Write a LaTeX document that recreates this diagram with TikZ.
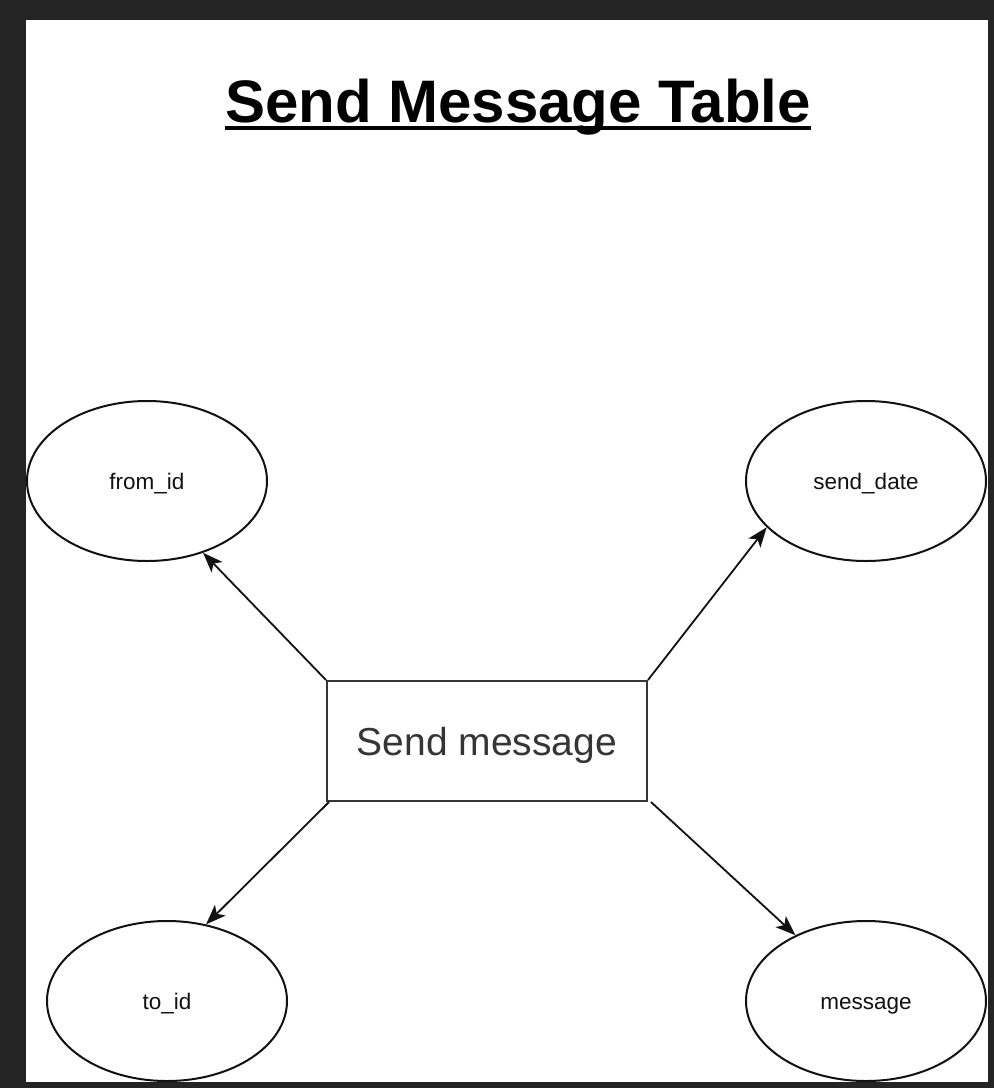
\documentclass[tikz,border=0pt]{standalone}
\usepackage{fontspec}
\setmainfont{Liberation Sans}
\usetikzlibrary{shapes.geometric,arrows.meta}
\definecolor{frame}{HTML}{242424}
\definecolor{ink}{HTML}{111111}
\begin{document}
\begin{tikzpicture}[x=1pt,y=-1pt,
  attr/.style={ellipse,draw=ink,line width=2pt,minimum width=240pt,minimum height=160pt,inner sep=0pt,
    font=\fontsize{22.5}{26}\selectfont,text=ink,text height=16pt,text depth=0pt},
  entity/.style={rectangle,draw=ink!85,line width=2pt,minimum width=320pt,minimum height=120pt,inner sep=0pt,
    font=\fontsize{39}{44}\selectfont,text=ink!85,text height=28pt,text depth=0pt},
  arr/.style={draw=ink,line width=1.8pt,-{Stealth[length=20pt,width=15pt,inset=5pt]}}]
\useasboundingbox (0,0) rectangle (994,1088);
\fill[frame] (0,0) rectangle (994,1088);
\fill[white] (26,20) rectangle (988,1082);
\node[anchor=base,inner sep=0pt,font=\fontsize{60}{70}\selectfont\bfseries] (title) at (518,122) {Send Message Table};
\draw[line width=3.2pt] ([yshift=-6pt]title.base west) -- ([yshift=-6pt]title.base east);
\node[entity] (box) at (487,741) {Send message};
\node[attr] (from) at (147,481) {from\_id};
\node[attr] (date) at (866,481) {send\_date};
\node[attr] (to) at (167,1001) {to\_id};
\node[attr] (msg) at (866,1001) {message};
\draw[arr] (box.north west) -- (from.-52);
\draw[arr] (box.north east) -- (date.-155);
\draw[arr] ([xshift=3pt]box.south west) -- (to.63);
\draw[arr] ([xshift=3pt]box.south east) -- (msg.137);
\end{tikzpicture}
\end{document}
